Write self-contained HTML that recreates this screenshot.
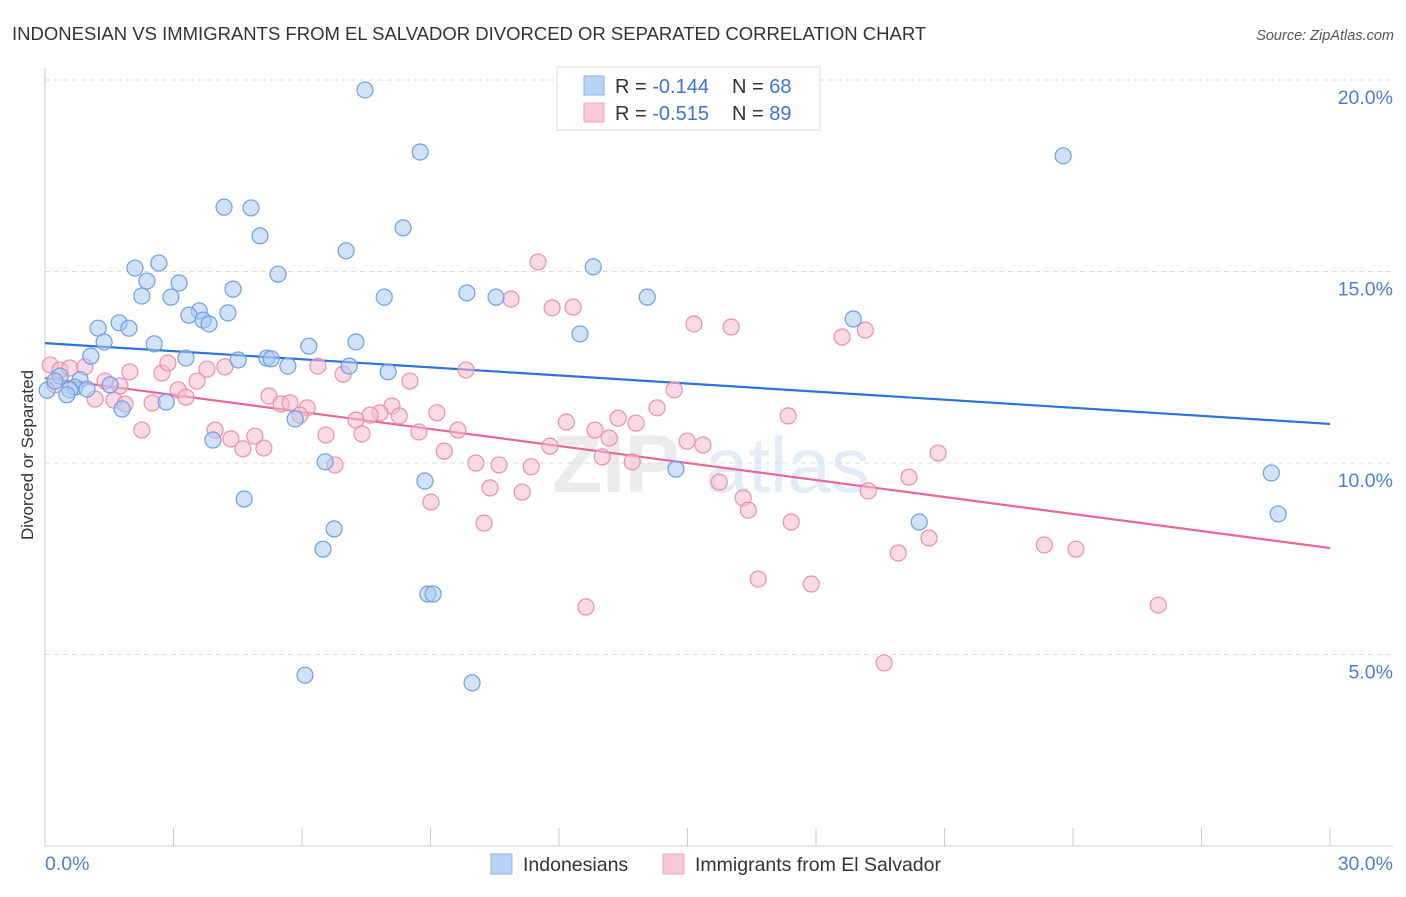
<!DOCTYPE html>
<html><head><meta charset="utf-8"><style>
body{margin:0;background:#fff;font-family:"Liberation Sans",sans-serif}
svg text{font-family:"Liberation Sans",sans-serif}
</style></head><body>
<svg id="chart" width="1406" height="892" xmlns="http://www.w3.org/2000/svg">
<text x="12" y="40" font-size="18.5" fill="#333">INDONESIAN VS IMMIGRANTS FROM EL SALVADOR DIVORCED OR SEPARATED CORRELATION CHART</text>
<text x="1394" y="40" font-size="14.5" fill="#555" font-style="italic" text-anchor="end">Source: ZipAtlas.com</text>
<g opacity="0.5">
<text x="552" y="492" font-size="82" fill="#d8d8d8" font-family="Liberation Serif" font-weight="bold">ZIP</text>
<text x="705" y="492" font-size="78" fill="#c7d9f0">atlas</text>
</g>
<g id="grid"></g>
<g id="axes"></g>
<g id="trends"></g>
<g id="points"></g>
<text transform="translate(33,455) rotate(-90)" font-size="17" fill="#333" text-anchor="middle">Divorced or Separated</text>
<g>
<rect x="557" y="67" width="263" height="63" fill="#fff" stroke="#ddd"/>
<rect x="584" y="76" width="20" height="19" fill="#b9d3f5" stroke="#8ab3e8"/>
<rect x="584" y="103" width="20" height="19" fill="#fcc7d7" stroke="#efa5bd"/>
<text x="615" y="93" font-size="20" fill="#333">R = <tspan fill="#3d74d0">-0.144</tspan><tspan x="732">N = </tspan><tspan fill="#3d74d0">68</tspan></text>
<text x="615" y="120" font-size="20" fill="#333">R = <tspan fill="#3d74d0">-0.515</tspan><tspan x="732">N = </tspan><tspan fill="#3d74d0">89</tspan></text>
</g>
<g>
<rect x="491" y="854" width="21" height="20" fill="#b9d3f5" stroke="#8ab3e8"/>
<text x="523" y="871" font-size="19.5" fill="#333">Indonesians</text>
<rect x="663" y="854" width="21" height="20" fill="#fcc7d7" stroke="#efa5bd"/>
<text x="695" y="871" font-size="19.5" fill="#333">Immigrants from El Salvador</text>
</g>
</svg>
<script>
const yTicks=[5,10,15,20];
const yTickLabels=["5.0%","10.0%","15.0%","20.0%"];
const xTickVals=[0,3,6,9,12,15,18,21,24,27,30];
const xEndLabels=["0.0%","30.0%"];
const blueX=[7.47,8.76,23.77,4.18,4.81,8.36,5.02,7.03,2.66,2.10,12.80,5.44,2.38,3.13,4.39,2.26,2.94,7.92,9.85,10.53,14.06,3.60,3.36,4.27,3.69,3.83,1.24,1.73,1.96,18.87,12.49,7.26,1.38,2.55,6.16,1.07,3.29,4.51,5.18,5.28,5.67,7.10,8.01,0.05,0.35,0.23,0.82,0.70,0.58,1.52,0.51,0.98,2.83,1.80,5.84,3.92,6.54,14.73,28.63,8.87,4.65,20.41,28.79,6.75,6.49,8.94,9.06,6.07,9.97];
const blueY=[19.74,18.12,18.02,16.68,16.66,16.14,15.93,15.54,15.22,15.09,15.12,14.93,14.75,14.70,14.54,14.36,14.33,14.33,14.44,14.33,14.33,13.97,13.86,13.92,13.73,13.63,13.52,13.66,13.52,13.76,13.37,13.16,13.16,13.11,13.05,12.79,12.74,12.69,12.74,12.72,12.53,12.53,12.38,11.9,12.27,12.14,12.17,11.98,11.91,12.04,11.78,11.93,11.59,11.41,11.15,10.60,10.03,9.84,9.74,9.53,9.06,8.46,8.67,8.28,7.75,6.58,6.58,4.46,4.26];
const pinkX=[11.51,10.88,11.84,12.33,15.15,16.02,19.15,18.61,0.12,0.35,0.58,0.93,1.98,2.73,2.87,3.78,4.20,6.37,6.96,9.83,8.52,0.23,1.40,1.75,3.55,3.11,3.29,1.17,1.61,1.87,2.50,5.23,5.51,5.72,6.12,5.95,14.69,14.29,8.10,7.82,7.59,7.26,8.27,9.15,13.38,12.17,17.35,9.64,8.73,12.84,13.80,13.17,2.26,3.97,4.34,4.62,4.90,5.11,6.56,7.40,11.79,14.99,15.36,9.32,13.01,13.71,20.85,10.06,10.60,6.77,11.35,20.17,15.74,10.39,11.14,19.22,16.30,9.01,16.42,17.42,10.25,20.64,19.92,23.33,24.07,16.65,17.89,12.63,25.99,19.59];
const pinkY=[15.25,14.28,14.05,14.07,13.63,13.55,13.47,13.29,12.56,12.43,12.48,12.51,12.38,12.35,12.61,12.45,12.51,12.53,12.32,12.43,12.14,12.04,12.14,12.01,12.14,11.91,11.72,11.67,11.64,11.54,11.57,11.75,11.54,11.57,11.44,11.25,11.91,11.44,11.49,11.31,11.25,11.12,11.23,11.31,11.17,11.07,11.23,10.86,10.81,10.86,11.04,10.65,10.86,10.86,10.63,10.37,10.70,10.39,10.73,10.76,10.44,10.57,10.47,10.31,10.16,10.03,10.26,10.00,9.95,9.95,9.90,9.63,9.50,9.35,9.24,9.27,9.09,8.98,8.77,8.46,8.43,8.04,7.65,7.86,7.75,6.97,6.84,6.24,6.29,4.78];
const trendBlue=[13.13,11.02];
const trendPink=[12.22,7.78];
const NS="http://www.w3.org/2000/svg";
const X0=45,X1=1330,Y0=846,PX=38.3;
function xs(v){return X0+(v/30)*(X1-X0);}
function ys(v){return Y0-v*PX;}
function mk(t,a,p){const e=document.createElementNS(NS,t);for(const k in a)e.setAttribute(k,a[k]);document.getElementById(p).appendChild(e);return e;}
yTicks.forEach((v,i)=>{
 const l=mk('line',{x1:X0,x2:1393,y1:ys(v),y2:ys(v),stroke:'#ddd','stroke-dasharray':'5,4'},'grid');
 
 
 const t=mk('text',{x:1393,y:ys(v)+24,'font-size':19.5,fill:'#4a7fd4','text-anchor':'end'},'axes');
 t.textContent=yTickLabels[i];
 
 
});
const ya=mk('line',{x1:X0,x2:X0,y1:68,y2:Y0,stroke:'#ccc'},'axes');


const xa=mk('line',{x1:X0,x2:1393,y1:Y0,y2:Y0,stroke:'#ccc'},'axes');


xTickVals.forEach(v=>{
 const t=mk('line',{x1:xs(v),x2:xs(v),y1:Y0,y2:Y0-18,stroke:'#ccc'},'axes');
 
 
});
const xl0=mk('text',{x:45,y:870,'font-size':19.5,fill:'#4a7fd4'},'axes');xl0.textContent=xEndLabels[0];


const xl1=mk('text',{x:1393,y:870,'font-size':19.5,fill:'#4a7fd4','text-anchor':'end'},'axes');xl1.textContent=xEndLabels[1];


function pts(X,Y,fill,stroke,name){
 X.forEach((x,i)=>{
  const c=mk('circle',{cx:xs(x),cy:ys(Y[i]),r:8,fill:fill,'fill-opacity':0.55,stroke:stroke,'stroke-width':1.2},'points');
  
  
 });
}
pts(pinkX,pinkY,'#f8bcd0','#e890ae','point-el-salvador');
pts(blueX,blueY,'#a9c8f2','#6e9fe0','point-indonesians');
const tb=mk('line',{x1:xs(0),y1:ys(trendBlue[0]),x2:xs(30),y2:ys(trendBlue[1]),stroke:'#2f72d8','stroke-width':2.2},'trends');


const tp=mk('line',{x1:xs(0),y1:ys(trendPink[0]),x2:xs(30),y2:ys(trendPink[1]),stroke:'#e8669a','stroke-width':2.2},'trends');


</script>
</body></html>
